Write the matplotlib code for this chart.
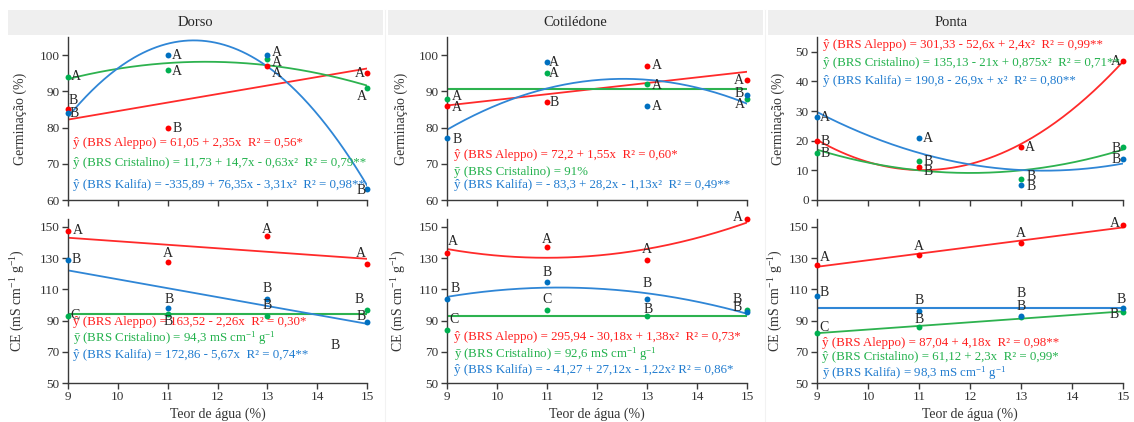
import numpy as np
import matplotlib
matplotlib.use("Agg")
import matplotlib.pyplot as plt
from matplotlib.patches import Rectangle

plt.rcParams['font.family'] = ['Liberation Serif', 'DejaVu Serif']
plt.rcParams['mathtext.fontset'] = 'custom'
plt.rcParams['mathtext.rm'] = 'Liberation Serif'
plt.rcParams['mathtext.it'] = 'Liberation Serif'
plt.rcParams['mathtext.default'] = 'regular'

# --- data ---
teor = [9, 11, 13, 15]
partes = ['Dorso', 'Cotilédone', 'Ponta']
cultivares = ['Aleppo', 'Cristalino', 'Kalifa']

germ_dorso = {'Aleppo': [85, 80, 97, 95], 'Cristalino': [94, 96, 99, 91], 'Kalifa': [84, 100, 100, 63]}
germ_cot = {'Aleppo': [86, 87, 97, 93], 'Cristalino': [88, 95, 92, 88], 'Kalifa': [77, 98, 86, 89]}
germ_ponta = {'Aleppo': [20, 11, 18, 47], 'Cristalino': [16, 13, 7, 18], 'Kalifa': [28, 21, 5, 14]}

ce_dorso = {'Aleppo': [147, 127.5, 144, 126.5], 'Cristalino': [93, 94, 93, 97], 'Kalifa': [129, 98, 104, 89]}
ce_cot = {'Aleppo': [133.5, 137, 129, 155], 'Cristalino': [84, 97, 93, 96.5], 'Kalifa': [104, 114.5, 104, 95.5]}
ce_ponta = {'Aleppo': [125.5, 132, 139.5, 151], 'Cristalino': [82, 86, 92, 95.5], 'Kalifa': [106, 96, 93, 98]}

# significance letters
let_germ_dorso = {'Aleppo': ['B', 'B', 'A', 'A'], 'Cristalino': ['A', 'A', 'A', 'A'], 'Kalifa': ['B', 'A', 'A', 'B']}
let_germ_cot = {'Aleppo': ['A', 'B', 'A', 'A'], 'Cristalino': ['A', 'A', 'A', 'A'], 'Kalifa': ['B', 'A', 'A', 'B']}
let_germ_ponta = {'Aleppo': ['B', 'B', 'A', 'A'], 'Cristalino': ['B', 'B', 'B', 'B'], 'Kalifa': ['A', 'A', 'B', 'B']}
let_ce_dorso = {'Aleppo': ['A', 'A', 'A', 'A'], 'Cristalino': ['C', 'B', 'B', 'B'], 'Kalifa': ['B', 'B', 'B', 'B']}
let_ce_cot = {'Aleppo': ['A', 'A', 'A', 'A'], 'Cristalino': ['C', 'C', 'B', 'B'], 'Kalifa': ['B', 'B', 'B', 'B']}
let_ce_ponta = {'Aleppo': ['A', 'A', 'A', 'A'], 'Cristalino': ['C', 'B', 'B', 'B'], 'Kalifa': ['B', 'B', 'B', 'B']}

# degree of the fitted trend (0 = mean line)
grau_germ = [[1, 2, 2], [1, 0, 2], [2, 2, 2]]
grau_ce = [[1, 0, 1], [2, 0, 2], [1, 1, 0]]

eq_germ = [
    ['ŷ (BRS Aleppo) = 61,05 + 2,35x  R² = 0,56*',
     'ŷ (BRS Cristalino) = 11,73 + 14,7x - 0,63x²  R² = 0,79**',
     'ŷ (BRS Kalifa) = -335,89 + 76,35x - 3,31x²  R² = 0,98**'],
    ['ŷ (BRS Aleppo) = 72,2 + 1,55x  R² = 0,60*',
     'ȳ (BRS Cristalino) = 91%',
     'ŷ (BRS Kalifa) = - 83,3 + 28,2x - 1,13x²  R² = 0,49**'],
    ['ŷ (BRS Aleppo) = 301,33 - 52,6x + 2,4x²  R² = 0,99**',
     'ŷ (BRS Cristalino) = 135,13 - 21x + 0,875x²  R² = 0,71**',
     'ŷ (BRS Kalifa) = 190,8 - 26,9x + x²  R² = 0,80**'],
]
eq_ce = [
    ['ŷ (BRS Aleppo) = 163,52 - 2,26x  R² = 0,30*',
     'ȳ (BRS Cristalino) = 94,3 mS cm$^{-1}$ g$^{-1}$',
     'ŷ (BRS Kalifa) = 172,86 - 5,67x  R² = 0,74**'],
    ['ŷ (BRS Aleppo) = 295,94 - 30,18x + 1,38x²  R² = 0,73*',
     'ȳ (BRS Cristalino) = 92,6 mS cm$^{-1}$ g$^{-1}$',
     'ŷ (BRS Kalifa) = - 41,27 + 27,12x - 1,22x² R² = 0,86*'],
    ['ŷ (BRS Aleppo) = 87,04 + 4,18x  R² = 0,98**',
     'ŷ (BRS Cristalino) = 61,12 + 2,3x  R² = 0,99*',
     'ȳ (BRS Kalifa) = 98,3 mS cm$^{-1}$ g$^{-1}$'],
]

# --- styles ---
cor_ponto = {'Aleppo': '#FF0000', 'Cristalino': '#00B050', 'Kalifa': '#0070C0'}
cor_linha = {'Aleppo': '#FF2A2A', 'Cristalino': '#2DB24F', 'Kalifa': '#2F86D6'}
cor_texto = {'Aleppo': '#FF1E1E', 'Cristalino': '#22B14C', 'Kalifa': '#1F7BCF'}

# letter offsets in pixels (dx, dy) per part -> cultivar -> point
off_germ = [
    {'Aleppo': [(5, 9), (9, -1), (10, -8), (-7, 0)],
     'Cristalino': [(8, 0), (9, -2), (10, -4), (-5, -9)],
     'Kalifa': [(6, 0), (9, 0), (10, 3), (-6, -1)]},
    {'Aleppo': [(10, -2), (7, 0), (10, 0), (-8, 0)],
     'Cristalino': [(10, 2), (7, 0), (10, -1), (-7, -6)],
     'Kalifa': [(10, -1), (7, 0), (10, -1), (-8, 1)]},
    {'Aleppo': [(8, -1), (9, -4), (9, -1), (-7, -1)],
     'Cristalino': [(8, -1), (9, 0), (10, 3), (-7, -2)],
     'Kalifa': [(8, 0), (9, -1), (10, -1), (-7, -1)]},
]
off_ce = [
    {'Aleppo': [(10, 1), (0, 8), (0, 7), (-6, 10)],
     'Cristalino': [(7, 0), (0, -7), (0, 10), (-8, 10)],
     'Kalifa': [(8, 0), (1, 9), (0, 10), (-6, 6)]},
    {'Aleppo': [(6, 11), (0, 8), (0, 10), (-9, 1)],
     'Cristalino': [(7, 10), (0, 10), (1, 6), (-10, 11)],
     'Kalifa': [(8, 10), (0, 10), (0, 15), (-10, 4)]},
    {'Aleppo': [(8, 8), (0, 8), (0, 10), (-8, 2)],
     'Cristalino': [(7, 6), (0, 7), (0, 24), (-9, -3)],
     'Kalifa': [(7, 3), (0, 11), (0, 9), (-2, 9)]},
]

eq_pos_germ = [(9.1, [75.6, 70.1, 64.1]), (9.15, [72.4, 67.8, 64.1]), (9.12, [52.2, 46.1, 40.1])]
eq_pos_ce = [(9.1, [89.3, 79.0, 67.8]), (9.13, [79.2, 68.5, 58.2]), (9.1, [75.7, 66.7, 56.0])]

W, H = 1134, 422
fig = plt.figure(figsize=(W / 100, H / 100), dpi=100)

lefts = [68, 447, 817]
rights = [367, 747, 1123]
label_off = [41, 39, 32]   # y-label distance from spine, px
header_x = [(8, 383), (388, 763), (768, 1134)]


def px_rect(l, top, r, bottom):
    return [l / W, 1 - bottom / H, (r - l) / W, (bottom - top) / H]


def draw_panel(ax, dados, letras, offs, graus, eqs, eqpos, ylim, yticks, ylabel):
    xs = np.linspace(9, 15, 200)
    for i, cv in enumerate(cultivares):
        y = np.array(dados[cv], dtype=float)
        g = graus[i]
        if g == 0:
            ax.plot([9, 15], [y.mean(), y.mean()], color=cor_linha[cv], lw=1.5, zorder=2)
        else:
            coef = np.polyfit(teor, y, g)
            ax.plot(xs, np.polyval(coef, xs), color=cor_linha[cv], lw=1.3, zorder=2)
        ax.scatter(teor, y, s=18, color=cor_ponto[cv], zorder=3, clip_on=False, linewidths=0)
        for xv, yv, lt, (dx, dy) in zip(teor, y, letras[cv], offs[cv]):
            ax.annotate(lt, (xv, yv), xytext=(dx, dy), textcoords='offset pixels',
                        ha='center', va='center', fontsize=10, color='#262626', zorder=4)
        ex, eys = eqpos
        ax.text(ex, eys[i], eqs[i], color=cor_texto[cv], fontsize=9.3, ha='left', va='center', zorder=4)
    ax.set_xlim(9, 15)
    ax.set_ylim(*ylim)
    ax.set_yticks(yticks)
    ax.set_xticks(range(9, 16))
    ax.set_ylabel(ylabel, fontsize=10, color='#333333')
    for s in ['top', 'right']:
        ax.spines[s].set_visible(False)
    for s in ['left', 'bottom']:
        ax.spines[s].set_color('#3a3a3a')
        ax.spines[s].set_linewidth(1.0)
    ax.tick_params(direction='out', length=4, width=1.0, color='#3a3a3a',
                   labelsize=9.5, labelcolor='#333333', pad=2)


germ_all = [germ_dorso, germ_cot, germ_ponta]
ce_all = [ce_dorso, ce_cot, ce_ponta]
let_germ_all = [let_germ_dorso, let_germ_cot, let_germ_ponta]
let_ce_all = [let_ce_dorso, let_ce_cot, let_ce_ponta]

for k in range(3):
    # header strip
    hx0, hx1 = header_x[k]
    fig.add_artist(Rectangle((hx0 / W, 1 - 35 / H), (hx1 - hx0) / W, 25 / H,
                             transform=fig.transFigure, facecolor='#EFEFEF', edgecolor='none'))
    fig.text((hx0 + hx1) / 2 / W, 1 - 22.5 / H, partes[k], ha='center', va='center',
             fontsize=10.5, color='#262626')

    lx = -label_off[k] / (rights[k] - lefts[k])

    ax1 = fig.add_axes(px_rect(lefts[k], 37, rights[k], 200))
    if k < 2:
        lim, tk = (60, 105), [60, 70, 80, 90, 100]
    else:
        lim, tk = (0, 55), [0, 10, 20, 30, 40, 50]
    draw_panel(ax1, germ_all[k], let_germ_all[k], off_germ[k], grau_germ[k], eq_germ[k],
               eq_pos_germ[k], lim, tk, 'Germinação (%)')
    ax1.tick_params(axis='x', labelbottom=False)
    ax1.yaxis.set_label_coords(lx, 0.5)

    ax2 = fig.add_axes(px_rect(lefts[k], 219, rights[k], 383))
    draw_panel(ax2, ce_all[k], let_ce_all[k], off_ce[k], grau_ce[k], eq_ce[k],
               eq_pos_ce[k], (50, 155), [50, 70, 90, 110, 130, 150], 'CE (mS cm$^{-1}$ g$^{-1}$)')
    ax2.set_xlabel('Teor de água (%)', fontsize=10, color='#333333', labelpad=3)
    ax2.yaxis.set_label_coords(lx, 0.5)
    if k == 0:
        # stray letter in the original chart
        ax2.text(14.36, 74, 'B', ha='center', va='center', fontsize=10, color='#262626')

# faint column separators
for xs_ in [385, 765]:
    fig.add_artist(plt.Line2D([xs_ / W, xs_ / W], [0, 1 - 10 / H], transform=fig.transFigure,
                              color='#F2F2F2', lw=0.8))

fig.savefig('out.png', dpi=100)
